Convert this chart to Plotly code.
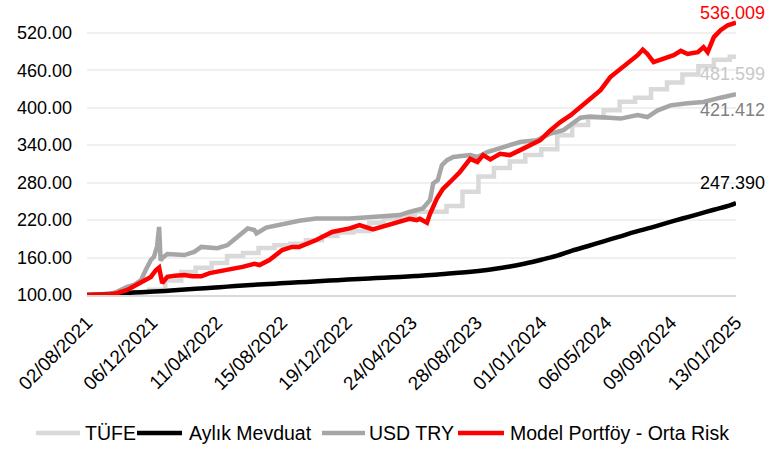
import plotly.graph_objects as go

# ---------------- DATA ----------------
tick_dates = ["2021-08-02", "2021-12-06", "2022-04-11", "2022-08-15", "2022-12-19",
              "2023-04-24", "2023-08-28", "2024-01-01", "2024-05-06", "2024-09-09", "2025-01-13"]
y_ticks = [100, 160, 220, 280, 340, 400, 460, 520]

tufe_dates = ["2021-08-02", "2021-09-01", "2021-10-01", "2021-11-01", "2021-12-01",
              "2022-01-01", "2022-02-01", "2022-03-01", "2022-04-01", "2022-05-01", "2022-06-01",
              "2022-07-01", "2022-08-01", "2022-09-01", "2022-10-01", "2022-11-01", "2022-12-01",
              "2023-01-01", "2023-02-01", "2023-03-01", "2023-04-01", "2023-05-01", "2023-06-01",
              "2023-07-01", "2023-08-01", "2023-09-01", "2023-10-01", "2023-11-01", "2023-12-01",
              "2024-01-01", "2024-02-01", "2024-03-01", "2024-04-01", "2024-05-01", "2024-06-01",
              "2024-07-01", "2024-08-01", "2024-09-01", "2024-10-01", "2024-11-01", "2024-12-01",
              "2025-01-01", "2025-01-13"]
tufe_values = [100.00, 101.12, 102.38, 104.83, 108.51,
               123.25, 136.93, 143.51, 151.35, 162.32, 167.16,
               175.43, 179.59, 182.21, 187.83, 194.47, 200.08,
               202.44, 215.90, 222.70, 227.80, 233.24, 233.34,
               242.48, 265.49, 289.63, 303.38, 313.79, 324.08,
               333.58, 355.93, 372.05, 383.81, 396.01, 409.36,
               416.07, 429.51, 440.12, 453.19, 466.24, 476.69,
               481.599, 481.599]

mevduat_dates = ["2021-08-02", "2021-09-01", "2021-10-01", "2021-11-01", "2021-12-01",
                 "2022-01-01", "2022-02-01", "2022-03-01", "2022-04-01", "2022-05-01", "2022-06-01",
                 "2022-07-01", "2022-08-01", "2022-09-01", "2022-10-01", "2022-11-01", "2022-12-01",
                 "2023-01-01", "2023-02-01", "2023-03-01", "2023-04-01", "2023-05-01", "2023-06-01",
                 "2023-07-01", "2023-08-01", "2023-09-01", "2023-10-01", "2023-11-01", "2023-12-01",
                 "2024-01-01", "2024-02-01", "2024-03-01", "2024-04-01", "2024-05-01", "2024-06-01",
                 "2024-07-01", "2024-08-01", "2024-09-01", "2024-10-01", "2024-11-01", "2024-12-01",
                 "2025-01-01", "2025-01-13"]
mevduat_values = [100.0, 101.3, 102.6, 103.9, 105.2,
                  106.6, 108.3, 110.0, 111.7, 113.4, 115.1,
                  116.7, 118.2, 119.6, 121.0, 122.4, 123.8,
                  125.1, 126.4, 127.7, 129.0, 130.5, 132.0,
                  134.0, 136.0, 138.5, 141.5, 145.5, 150.5,
                  156.5, 163.0, 171.0, 178.5, 186.0, 193.5,
                  201.0, 208.0, 215.5, 222.5, 229.5, 236.5,
                  243.5, 247.390]

usd_dates = ["2021-08-02", "2021-08-25", "2021-09-13", "2021-09-29", "2021-10-19", "2021-11-01",
             "2021-11-15", "2021-11-24", "2021-12-04", "2021-12-10", "2021-12-16", "2021-12-20",
             "2021-12-23", "2021-12-26", "2022-01-05", "2022-02-07", "2022-02-26", "2022-03-12",
             "2022-04-12", "2022-05-02", "2022-05-21", "2022-06-10", "2022-06-23", "2022-06-27",
             "2022-07-16", "2022-08-16", "2022-09-18", "2022-10-21", "2022-12-25", "2023-02-27",
             "2023-04-01", "2023-04-20", "2023-05-16", "2023-05-30", "2023-06-05", "2023-06-14",
             "2023-06-22", "2023-07-02", "2023-07-14", "2023-08-16", "2023-08-30", "2023-09-18",
             "2023-10-19", "2023-11-21", "2023-12-24", "2024-01-19", "2024-02-13", "2024-03-03",
             "2024-03-17", "2024-04-05", "2024-05-01", "2024-06-03", "2024-07-06", "2024-07-25",
             "2024-08-14", "2024-09-08", "2024-10-11", "2024-11-11", "2024-12-14", "2025-01-13"]
usd_values = [100.0, 100.0, 101.0, 105.0, 113.0, 116.0,
              124.0, 140.0, 156.0, 161.0, 178.0, 209.0,
              155.0, 159.0, 165.5, 164.0, 169.0, 177.0,
              175.0, 180.0, 193.0, 206.6, 204.0, 198.6,
              208.0, 213.5, 219.0, 222.6, 222.6, 226.0,
              228.0, 233.0, 238.6, 252.0, 278.6, 284.0,
              308.0, 316.0, 321.0, 324.0, 321.0, 329.0,
              337.0, 345.0, 348.0, 358.5, 364.0, 374.5,
              384.0, 386.0, 385.0, 382.5, 388.0, 385.0,
              395.7, 403.7, 407.0, 409.0, 416.0, 421.412]

model_dates = ["2021-08-02", "2021-08-25", "2021-09-13", "2021-09-29", "2021-10-19", "2021-11-01",
               "2021-11-21", "2021-12-04", "2021-12-14", "2021-12-20", "2021-12-26", "2022-01-05",
               "2022-01-20", "2022-02-07", "2022-02-22", "2022-03-12", "2022-03-28", "2022-04-12",
               "2022-05-02", "2022-05-15", "2022-05-31", "2022-06-23", "2022-07-03", "2022-07-22",
               "2022-08-16", "2022-09-04", "2022-09-18", "2022-10-21", "2022-11-21", "2022-12-25",
               "2023-01-13", "2023-02-08", "2023-02-27", "2023-04-01", "2023-04-20", "2023-05-04",
               "2023-05-10", "2023-05-24", "2023-05-30", "2023-06-12", "2023-06-24", "2023-07-08",
               "2023-07-27", "2023-08-16", "2023-08-30", "2023-09-10", "2023-09-24", "2023-10-13",
               "2023-11-01", "2023-11-21", "2023-12-11", "2023-12-30", "2024-01-19", "2024-02-07",
               "2024-02-27", "2024-03-13", "2024-03-17", "2024-04-05", "2024-04-25", "2024-05-14",
               "2024-06-03", "2024-06-22", "2024-07-06", "2024-07-16", "2024-07-25", "2024-08-06",
               "2024-08-26", "2024-09-14", "2024-09-28", "2024-10-11", "2024-10-31", "2024-11-11",
               "2024-11-19", "2024-12-01", "2024-12-14", "2024-12-28", "2025-01-13"]
model_values = [100.0, 100.2, 101.0, 103.0, 108.0, 114.0,
                124.0, 129.0, 140.0, 144.0, 119.0, 129.0,
                131.0, 132.0, 130.0, 130.0, 135.0, 137.0,
                141.0, 143.0, 145.0, 150.0, 148.0, 156.0,
                172.0, 177.0, 177.0, 188.0, 201.0, 206.6,
                212.0, 205.0, 210.0, 217.0, 222.0, 220.0,
                222.0, 215.6, 230.0, 254.0, 270.0, 281.0,
                297.0, 318.0, 313.0, 324.0, 317.0, 326.0,
                324.0, 332.0, 340.0, 348.0, 364.0, 377.0,
                388.0, 398.0, 401.0, 414.0, 428.0, 449.0,
                462.0, 475.0, 484.0, 493.0, 486.0, 473.0,
                478.0, 484.0, 491.0, 486.0, 489.0, 497.0,
                489.0, 513.0, 524.0, 532.0, 536.009]

series_names = ["TÜFE", "Aylık Mevduat", "USD TRY", "Model Portföy - Orta Risk"]
end_texts = ["481.599", "247.390", "421.412", "536.009"]

# ---------------- FIGURE ----------------
FONT = "Liberation Sans, Arial, sans-serif"
C_TUFE, C_MEV, C_USD, C_MOD = "#d9d9d9", "#000000", "#a6a6a6", "#ff0000"
colors = [C_TUFE, C_MEV, C_USD, C_MOD]
LW = 4.5

fig = go.Figure()
fig.add_trace(go.Scatter(x=tufe_dates, y=tufe_values, name=series_names[0], mode="lines",
                         line=dict(color=C_TUFE, width=LW, shape="hv")))
fig.add_trace(go.Scatter(x=mevduat_dates, y=mevduat_values, name=series_names[1], mode="lines",
                         line=dict(color=C_MEV, width=LW, shape="spline")))
fig.add_trace(go.Scatter(x=usd_dates, y=usd_values, name=series_names[2], mode="lines",
                         line=dict(color=C_USD, width=LW)))
fig.add_trace(go.Scatter(x=model_dates, y=model_values, name=series_names[3], mode="lines",
                         line=dict(color=C_MOD, width=LW)))

# end-of-series value labels
last_vals = [tufe_values[-1], mevduat_values[-1], usd_values[-1], model_values[-1]]
label_cols = ["#c8c8c8", "#000000", "#7f7f7f", C_MOD]
label_shift = [-17, 20, -16, 10]
for yv, txt, col, ys in zip(last_vals, end_texts, label_cols, label_shift):
    fig.add_annotation(x=1, xref="paper", y=yv, yref="y", text=txt, showarrow=False,
                       xanchor="right", xshift=31, yshift=ys,
                       font=dict(family=FONT, size=18, color=col))

# legend row below the chart (line sample + label)
PL, PW, PB, PH = 87, 649, 295, 281          # plot area in pixels
leg_y = (PB - 433) / PH
leg_line_px = [(36, 80), (137, 182), (322, 365), (458, 504)]
leg_text_px = [83, 187, 367, 508]
for (x0, x1), tx, name, col in zip(leg_line_px, leg_text_px, series_names, colors):
    fig.add_shape(type="line", xref="paper", yref="paper",
                  x0=(x0 - PL) / PW, x1=(x1 - PL) / PW, y0=leg_y, y1=leg_y,
                  line=dict(color=col, width=LW))
    fig.add_annotation(x=(tx - PL) / PW, xref="paper", y=leg_y, yref="paper", text=name,
                       showarrow=False, xanchor="left", yanchor="middle",
                       font=dict(family=FONT, size=19.5, color="#000000"))

fig.update_layout(
    width=769, height=450,
    margin=dict(l=87, r=33, t=14, b=155, autoexpand=False),
    paper_bgcolor="white", plot_bgcolor="white",
    font=dict(family=FONT, size=18, color="#000000"),
    showlegend=False,
)
fig.update_xaxes(range=["2021-08-02", "2025-01-13"], tickvals=tick_dates, tickformat="%d/%m/%Y",
                 tickangle=-45, showgrid=False, showline=True, linecolor="#d9d9d9", linewidth=2,
                 ticks="", zeroline=False, automargin=False, ticklabeloverflow="allow",
                 ticklabelstandoff=7, tickfont=dict(size=19))
fig.update_yaxes(range=[100, 550], tickvals=y_ticks, tickformat=".2f", showgrid=True,
                 gridcolor="#f0f0f0", gridwidth=2, zeroline=False, ticks="", automargin=False,
                 ticklabelstandoff=14, tickfont=dict(size=18))

fig.write_html("out.html", config={"displayModeBar": False},
               post_script="document.body.style.margin='0';")
